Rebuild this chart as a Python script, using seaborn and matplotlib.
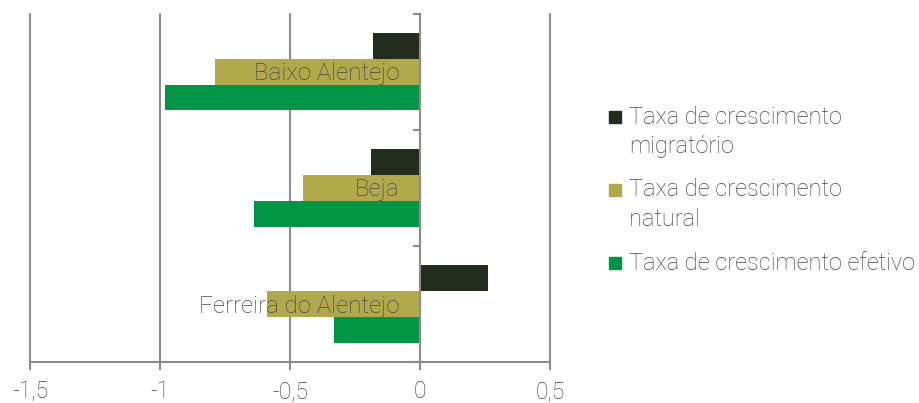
import matplotlib
matplotlib.use("Agg")
import matplotlib.pyplot as plt
from matplotlib.patches import Rectangle
import seaborn as sns
import pandas as pd

# Data
regioes = ["Baixo Alentejo", "Beja", "Ferreira do Alentejo"]
series = [
    "Taxa de crescimento\nmigratório",
    "Taxa de crescimento\nnatural",
    "Taxa de crescimento efetivo",
]
migratorio = [-0.18, -0.19, 0.26]
natural = [-0.79, -0.45, -0.59]
efetivo = [-0.98, -0.64, -0.33]
xticks = [-1.5, -1.0, -0.5, 0.0, 0.5]
xtick_labels = ["-1,5", "-1", "-0,5", "0", "0,5"]

cores = ["#242c1e", "#b1a94b", "#009646"]

rows = []
for serie, valores in zip(series, [migratorio, natural, efetivo]):
    for regiao, v in zip(regioes, valores):
        rows.append({"regiao": regiao, "serie": serie, "valor": v})
df = pd.DataFrame(rows)

sns.set_theme(style="white")
plt.rcParams["font.family"] = ["Roboto", "DejaVu Sans"]
plt.rcParams["font.weight"] = "light"

TXT = "#454545"
GRID = "#8c8c8c"
FS = 17
W, H = 920, 403

fig = plt.figure(figsize=(W / 100, H / 100), dpi=100)
ax = fig.add_axes([30 / W, 41 / H, 520 / W, 348.5 / H])

sns.barplot(
    data=df, x="valor", y="regiao", hue="serie", order=regioes,
    hue_order=series, palette=cores, orient="h", width=0.67,
    saturation=1, errorbar=None, legend=False, linewidth=0, ax=ax,
)

ax.set_xlim(-1.5, 0.5)
ax.set_ylim(2.5, -0.5)
ax.set_xlabel("")
ax.set_ylabel("")

# Vertical gridlines and x axis
ax.set_xticks(xticks)
ax.set_xticklabels(xtick_labels)
ax.grid(axis="x", color=GRID, linewidth=1.5)
ax.grid(axis="y", visible=False)
for ln in ax.get_xgridlines():
    ln.set_clip_on(False)
ax.set_axisbelow(True)
ax.tick_params(axis="x", length=6, width=1.5, color=GRID, pad=7,
               labelsize=16.5, labelcolor=TXT, bottom=True)

# Category axis at zero, with boundary ticks
for s in ["top", "right"]:
    ax.spines[s].set_visible(False)
ax.spines["left"].set_position(("data", 0))
for s in ["left", "bottom"]:
    ax.spines[s].set_color(GRID)
    ax.spines[s].set_linewidth(1.5)
ax.set_yticks([])
ax.set_yticks([-0.5, 0.5, 1.5, 2.5], minor=True)
ax.tick_params(axis="y", which="minor", length=5, width=1.5, color=GRID,
               left=True)

# Category names beside the zero axis, drawn over the bars
for i, regiao in enumerate(regioes):
    ax.annotate(regiao, xy=(0, i), xytext=(-15, -1.5), textcoords="offset points",
                ha="right", va="center", fontsize=FS + 0.4, color=TXT, zorder=10)

# Legend
y0 = [117, 190, 263]
for cor, serie, y in zip(cores, series, y0):
    fig.patches.append(Rectangle((609 / W, 1 - (y + 6) / H), 12 / W, 12 / H,
                                 transform=fig.transFigure, color=cor))
    for i, linha in enumerate(serie.split("\n")):
        fig.text(629 / W, 1 - (y + i * 29) / H, linha, fontsize=FS,
                 color=TXT, va="center", ha="left")

fig.savefig("out.png", dpi=100)
